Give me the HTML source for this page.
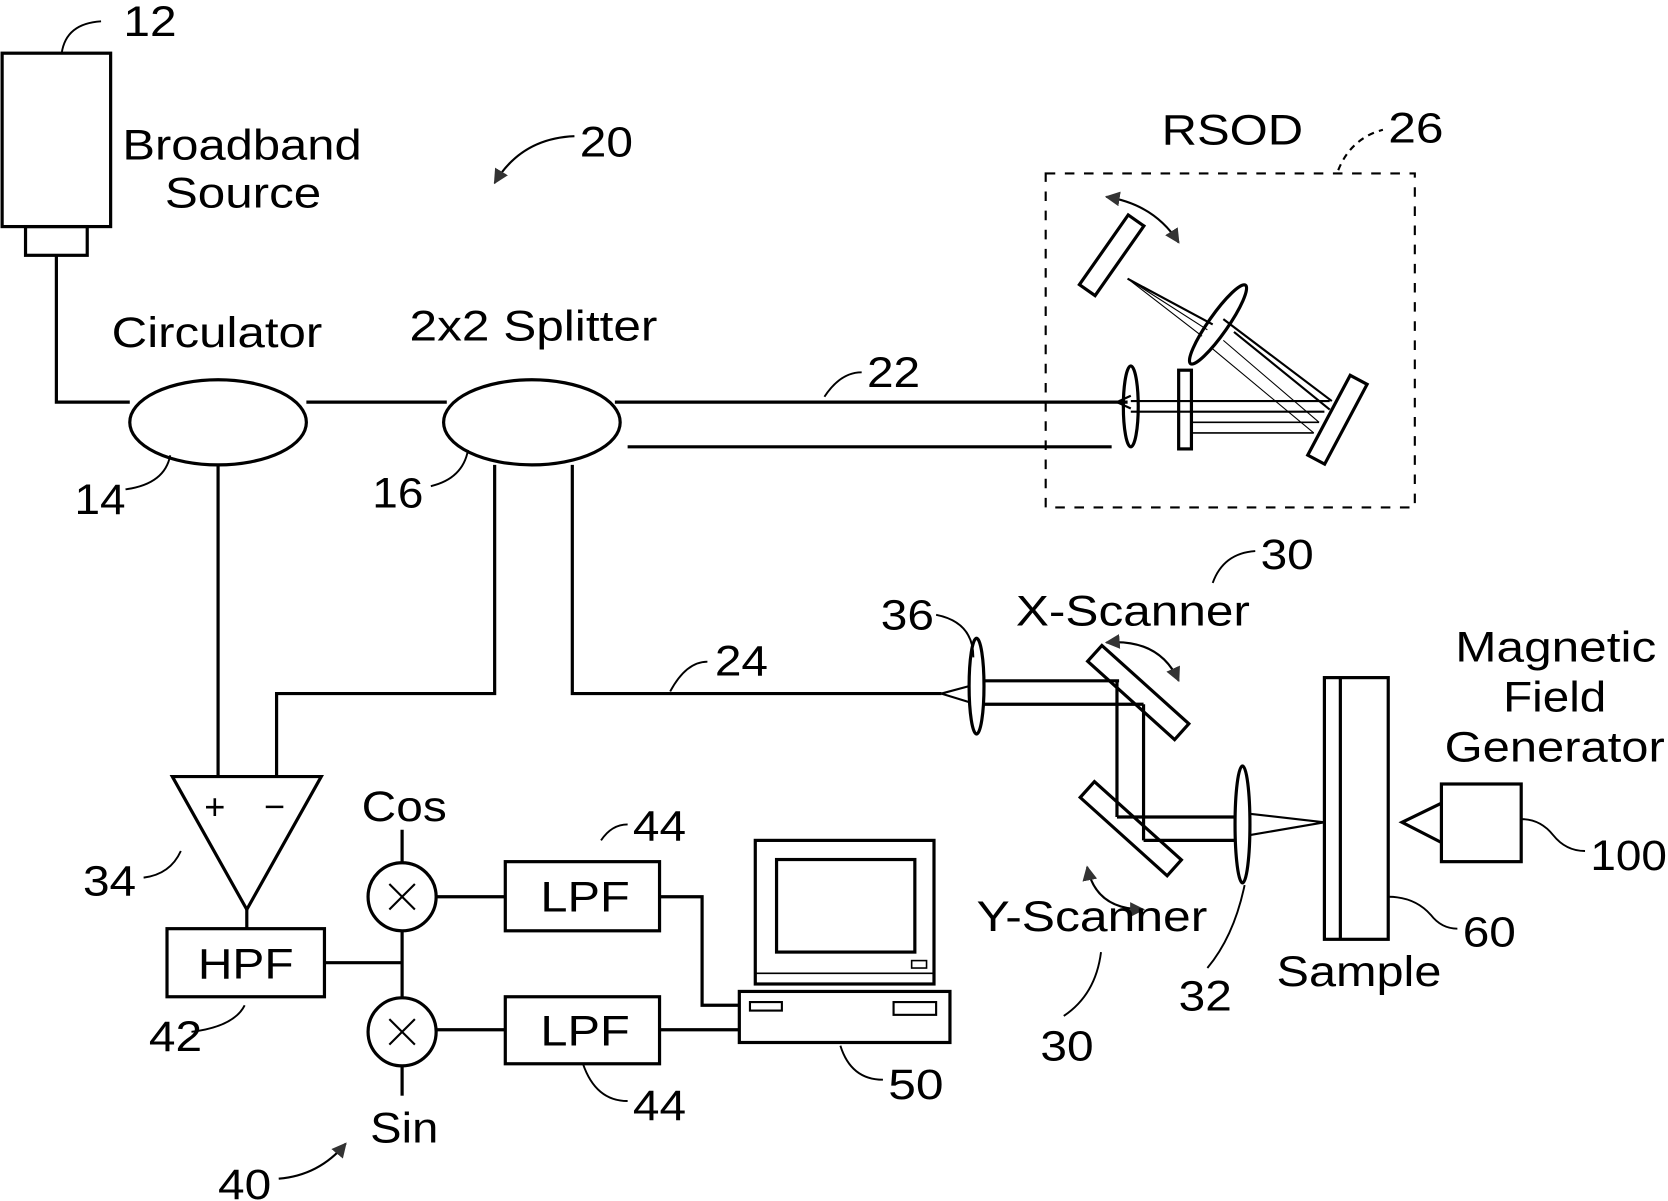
<!DOCTYPE html>
<html><head><style>html,body{margin:0;padding:0;background:#fff}svg{display:block}</style></head>
<body>
<svg width="1668" height="1201" viewBox="0 0 1568 1129" preserveAspectRatio="none" xmlns="http://www.w3.org/2000/svg">
<defs>
<marker id="ah" viewBox="0 0 10 10" refX="9" refY="5" markerWidth="7" markerHeight="7" orient="auto-start-reverse"><path d="M0,0 L10,5 L0,10 z" fill="#333"/></marker>
</defs>
<g fill="none" stroke="#000" stroke-width="3">
<rect x="2" y="50" width="102" height="163"/>
<rect x="24" y="213" width="58" height="27"/>
<polyline points="53,240 53,378 122,378"/>
<ellipse cx="205" cy="397" rx="83" ry="40"/>
<line x1="288" y1="378" x2="420" y2="378"/>
<ellipse cx="500" cy="397" rx="83" ry="40"/>
<line x1="578" y1="378" x2="1060" y2="378"/>
<line x1="590" y1="420" x2="1045" y2="420"/>
<line x1="205" y1="437" x2="205" y2="730"/>
<polyline points="465,437 465,652 260,652 260,730"/>
<polyline points="538,437 538,652 885,652"/>
<rect x="983" y="163" width="347" height="314" stroke-dasharray="9,9" stroke-width="2"/>
<rect x="1005" y="231" width="80" height="18" transform="rotate(-55 1045 240)"/>
<ellipse cx="1145" cy="305" rx="45" ry="9" transform="rotate(-55 1145 305)"/>
<rect x="1215" y="386" width="85" height="18" transform="rotate(-62 1257 395)"/>
<ellipse cx="1063" cy="382" rx="7" ry="38"/>
<rect x="1108" y="348" width="12" height="74"/>
<line x1="1063" y1="377" x2="1250" y2="377" stroke-width="2"/>
<line x1="1063" y1="387" x2="1245" y2="387" stroke-width="2"/>
<line x1="1120" y1="397" x2="1240" y2="397" stroke-width="1.5"/>
<line x1="1120" y1="407" x2="1235" y2="407" stroke-width="1.5"/>
<line x1="1050" y1="378" x2="1063" y2="372" stroke-width="2"/>
<line x1="1050" y1="378" x2="1063" y2="384" stroke-width="2"/>
<line x1="1150" y1="300" x2="1252" y2="377" stroke-width="2"/>
<line x1="1160" y1="312" x2="1250" y2="385" stroke-width="2"/>
<line x1="1060" y1="262" x2="1140" y2="305" stroke-width="2"/>
<line x1="1060" y1="262" x2="1135" y2="310" stroke-width="1"/>
<line x1="1060" y1="262" x2="1130" y2="316" stroke-width="1"/>
<line x1="1150" y1="320" x2="1240" y2="397" stroke-width="1"/>
<line x1="1140" y1="328" x2="1235" y2="407" stroke-width="1"/>
<path d="M1040,185 Q1085,192 1108,228" stroke-width="2" marker-start="url(#ah)" marker-end="url(#ah)"/>
<path d="M1258,160 Q1270,130 1300,122" stroke-dasharray="6,5" stroke-width="2"/>
<ellipse cx="918" cy="645" rx="7" ry="45"/>
<line x1="885" y1="652" x2="911" y2="645" stroke-width="2"/>
<line x1="885" y1="652" x2="911" y2="660" stroke-width="2"/>
<line x1="925" y1="640" x2="1052" y2="640"/>
<line x1="925" y1="662" x2="1075" y2="662"/>
<rect x="1015" y="641" width="110" height="20" transform="rotate(42 1070 651)"/>
<line x1="1050" y1="640" x2="1050" y2="768"/>
<line x1="1075" y1="662" x2="1075" y2="790"/>
<rect x="1008" y="769" width="110" height="20" transform="rotate(42 1063 779)"/>
<line x1="1050" y1="768" x2="1162" y2="768"/>
<line x1="1075" y1="790" x2="1162" y2="790"/>
<ellipse cx="1168" cy="775" rx="7" ry="55"/>
<line x1="1175" y1="765" x2="1245" y2="773" stroke-width="2"/>
<line x1="1175" y1="785" x2="1245" y2="773" stroke-width="2"/>
<path d="M1040,604 Q1090,600 1108,640" stroke-width="2" marker-start="url(#ah)" marker-end="url(#ah)"/>
<path d="M1022,815 Q1030,855 1075,855" stroke-width="2" marker-start="url(#ah)" marker-end="url(#ah)"/>
<rect x="1245" y="637" width="60" height="246"/>
<line x1="1260" y1="637" x2="1260" y2="883"/>
<rect x="1355" y="737" width="75" height="73"/>
<polyline points="1355,755 1318,773 1355,792"/>
<polygon points="162,730 302,730 232,855"/>
<line x1="232" y1="855" x2="232" y2="873"/>
<rect x="157" y="873" width="148" height="64"/>
<line x1="305" y1="905" x2="378" y2="905"/>
<line x1="378" y1="780" x2="378" y2="811"/>
<line x1="378" y1="875" x2="378" y2="938"/>
<line x1="378" y1="1002" x2="378" y2="1030"/>
<circle cx="378" cy="843" r="32"/>
<circle cx="378" cy="970" r="32"/>
<line x1="366" y1="831" x2="390" y2="855" stroke-width="2"/><line x1="390" y1="831" x2="366" y2="855" stroke-width="2"/>
<line x1="366" y1="958" x2="390" y2="982" stroke-width="2"/><line x1="390" y1="958" x2="366" y2="982" stroke-width="2"/>
<line x1="410" y1="843" x2="475" y2="843"/>
<line x1="410" y1="968" x2="475" y2="968"/>
<rect x="475" y="810" width="145" height="65"/>
<rect x="475" y="937" width="145" height="63"/>
<polyline points="620,843 660,843 660,945 695,945"/>
<line x1="620" y1="968" x2="695" y2="968"/>
<rect x="710" y="790" width="168" height="135"/>
<rect x="730" y="808" width="130" height="87"/>
<line x1="710" y1="915" x2="878" y2="915" stroke-width="1.5"/>
<rect x="857" y="903" width="14" height="7" stroke-width="1.5"/>
<rect x="695" y="932" width="198" height="48"/>
<rect x="705" y="942" width="30" height="8" stroke-width="2"/>
<rect x="840" y="942" width="40" height="12" stroke-width="2"/>
<g stroke-width="1.8">
<path d="M58,50 Q62,22 95,20"/>
<path d="M118,460 Q155,455 160,428"/>
<path d="M405,457 Q435,450 440,423"/>
<path d="M775,373 Q790,350 810,350"/>
<path d="M630,650 Q645,622 665,622"/>
<path d="M880,578 Q915,585 915,618"/>
<path d="M1140,548 Q1150,520 1180,518"/>
<path d="M1035,895 Q1030,935 1000,955"/>
<path d="M1170,832 Q1160,880 1135,910"/>
<path d="M1305,843 Q1330,843 1345,860 Q1355,873 1370,873"/>
<path d="M1430,770 Q1448,770 1460,785 Q1472,800 1490,800"/>
<path d="M135,825 Q160,822 170,800"/>
<path d="M180,970 Q220,965 230,945"/>
<path d="M565,790 Q575,775 590,775"/>
<path d="M548,1000 Q560,1035 590,1035"/>
<path d="M790,983 Q800,1015 830,1015"/>
</g>
<path d="M540,128 Q490,130 465,172" stroke-width="2" marker-end="url(#ah)"/>
<path d="M262,1108 Q300,1105 325,1075" stroke-width="2" marker-end="url(#ah)"/>
</g>
<g font-family="Liberation Sans, sans-serif" font-size="40" fill="#000" lengthAdjust="spacingAndGlyphs">
<text x="116" y="34" textLength="50" lengthAdjust="spacingAndGlyphs">12</text>
<text x="115" y="150" textLength="225" lengthAdjust="spacingAndGlyphs">Broadband</text>
<text x="155" y="195" textLength="147" lengthAdjust="spacingAndGlyphs">Source</text>
<text x="545" y="147" textLength="50" lengthAdjust="spacingAndGlyphs">20</text>
<text x="105" y="326" textLength="198" lengthAdjust="spacingAndGlyphs">Circulator</text>
<text x="385" y="320" textLength="233" lengthAdjust="spacingAndGlyphs">2x2 Splitter</text>
<text x="70" y="483" textLength="48" lengthAdjust="spacingAndGlyphs">14</text>
<text x="350" y="477" textLength="48" lengthAdjust="spacingAndGlyphs">16</text>
<text x="815" y="364" textLength="50" lengthAdjust="spacingAndGlyphs">22</text>
<text x="1092" y="136" textLength="133" lengthAdjust="spacingAndGlyphs">RSOD</text>
<text x="1305" y="134" textLength="52" lengthAdjust="spacingAndGlyphs">26</text>
<text x="672" y="635" textLength="50" lengthAdjust="spacingAndGlyphs">24</text>
<text x="828" y="592" textLength="50" lengthAdjust="spacingAndGlyphs">36</text>
<text x="955" y="588" textLength="220" lengthAdjust="spacingAndGlyphs">X-Scanner</text>
<text x="1185" y="535" textLength="50" lengthAdjust="spacingAndGlyphs">30</text>
<text x="1368" y="622" textLength="189" lengthAdjust="spacingAndGlyphs">Magnetic</text>
<text x="1413" y="669" textLength="97" lengthAdjust="spacingAndGlyphs">Field</text>
<text x="1358" y="716" textLength="207" lengthAdjust="spacingAndGlyphs">Generator</text>
<text x="1495" y="818" textLength="72" lengthAdjust="spacingAndGlyphs">100</text>
<text x="1375" y="890" textLength="50" lengthAdjust="spacingAndGlyphs">60</text>
<text x="1200" y="927" textLength="155" lengthAdjust="spacingAndGlyphs">Sample</text>
<text x="1108" y="950" textLength="50" lengthAdjust="spacingAndGlyphs">32</text>
<text x="918" y="875" textLength="217" lengthAdjust="spacingAndGlyphs">Y-Scanner</text>
<text x="978" y="997" textLength="50" lengthAdjust="spacingAndGlyphs">30</text>
<text x="340" y="772" textLength="80" lengthAdjust="spacingAndGlyphs">Cos</text>
<text x="348" y="1074" textLength="64" lengthAdjust="spacingAndGlyphs">Sin</text>
<text x="192" y="770" font-size="34">+</text>
<text x="248" y="770" font-size="34">−</text>
<text x="186" y="920" textLength="90" lengthAdjust="spacingAndGlyphs">HPF</text>
<text x="508" y="857" textLength="84" lengthAdjust="spacingAndGlyphs">LPF</text>
<text x="508" y="983" textLength="84" lengthAdjust="spacingAndGlyphs">LPF</text>
<text x="78" y="842" textLength="50" lengthAdjust="spacingAndGlyphs">34</text>
<text x="140" y="988" textLength="50" lengthAdjust="spacingAndGlyphs">42</text>
<text x="595" y="790" textLength="50" lengthAdjust="spacingAndGlyphs">44</text>
<text x="595" y="1053" textLength="50" lengthAdjust="spacingAndGlyphs">44</text>
<text x="835" y="1033" textLength="52" lengthAdjust="spacingAndGlyphs">50</text>
<text x="205" y="1127" textLength="50" lengthAdjust="spacingAndGlyphs">40</text>
</g>
</svg>
</body></html>
